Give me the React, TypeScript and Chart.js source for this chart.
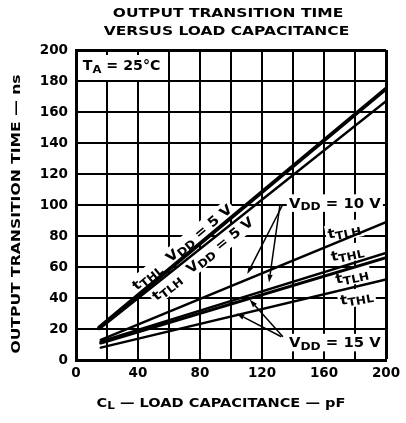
import React, { useEffect, useRef } from 'react';
import { Chart, registerables } from 'chart.js';

Chart.register(...registerables);

// ---- data ----
const X_MIN = 0;
const X_MAX = 200;
const X_STEP = 20;
const X_LABEL_STEP = 40;
const Y_MIN = 0;
const Y_MAX = 200;
const Y_STEP = 20;

const cl5V = [15, 200];
const tTHL_5V = [21, 175];
const tTLH_5V = [20, 167];

const cl10V = [16, 200];
const tTLH_10V = [13, 89];
const tTHL_10V = [12, 69];

const cl15V = [16, 200];
const tTLH_15V = [11, 66];
const tTHL_15V = [8, 52];

const TITLE = ['OUTPUT TRANSITION TIME', 'VERSUS LOAD CAPACITANCE'];
const Y_TITLE = 'OUTPUT TRANSITION TIME \u2014 ns';

const FONT = '"DejaVu Sans", "Liberation Sans", sans-serif';

type Part = { t: string; sub?: boolean };

const X_TITLE_PARTS: Part[] = [{ t: 'C' }, { t: 'L', sub: true }, { t: ' \u2014 LOAD CAPACITANCE \u2014 pF' }];

// right-side labels: [parts, x, y, rotationDeg]
const sideLabels: [Part[], number, number, number][] = [
  [[{ t: 'V' }, { t: 'DD', sub: true }, { t: ' = 10 V' }], 167, 101.5, 0],
  [[{ t: 't' }, { t: 'TLH', sub: true }], 173, 83.5, -12],
  [[{ t: 't' }, { t: 'THL', sub: true }], 175, 69, -12],
  [[{ t: 't' }, { t: 'TLH', sub: true }], 178, 54.5, -12],
  [[{ t: 't' }, { t: 'THL', sub: true }], 181, 40.5, -10],
  [[{ t: 'V' }, { t: 'DD', sub: true }, { t: ' = 15 V' }], 167, 11.5, 0],
];

// arrows: [fromX, fromY, toX, toY] in data units
const arrows: [number, number, number, number][] = [
  [133.5, 100.5, 110.5, 55.5],
  [131.5, 99.5, 124.5, 50],
  [133.5, 15, 112, 39],
  [132.5, 15, 103.5, 30],
];

function setFont(ctx: CanvasRenderingContext2D, size: number) {
  ctx.font = `bold ${size}px ${FONT}`;
}

function richWidth(ctx: CanvasRenderingContext2D, parts: Part[], size: number) {
  let w = 0;
  for (const p of parts) {
    setFont(ctx, p.sub ? size * 0.82 : size);
    w += ctx.measureText(p.t).width;
  }
  return w;
}

function drawRich(
  ctx: CanvasRenderingContext2D,
  parts: Part[],
  cx: number,
  cy: number,
  size: number,
  bg: boolean,
  sx = 1
) {
  ctx.save();
  ctx.translate(cx, cy);
  ctx.scale(sx, 1);
  const w = richWidth(ctx, parts, size);
  let x = -w / 2;
  if (bg) {
    ctx.fillStyle = '#fff';
    ctx.fillRect(x - 2, -size * 0.62, w + 4, size * 1.3);
  }
  ctx.fillStyle = '#000';
  ctx.textAlign = 'left';
  ctx.textBaseline = 'alphabetic';
  const base = size * 0.36;
  for (const p of parts) {
    const s = p.sub ? size * 0.82 : size;
    setFont(ctx, s);
    ctx.fillText(p.t, x, p.sub ? base + size * 0.2 : base);
    x += ctx.measureText(p.t).width;
  }
  ctx.restore();
}

function lineAt(xs: number[], ys: number[], x: number) {
  const t = (x - xs[0]) / (xs[1] - xs[0]);
  return ys[0] + t * (ys[1] - ys[0]);
}

const annotations = {
  id: 'annotations',
  beforeDatasetsDraw(chart: any) {
    const ctx: CanvasRenderingContext2D = chart.ctx;
    const xs = chart.scales.x;
    const ys = chart.scales.y;
    const area = chart.chartArea;
    const px = (v: number) => xs.getPixelForValue(v);
    const py = (v: number) => ys.getPixelForValue(v);
    ctx.save();

    // titles
    const tc = (area.left + area.right) / 2 - 3;
    drawRich(ctx, [{ t: TITLE[0] }], tc, 12, 13, false, 1.19);
    drawRich(ctx, [{ t: TITLE[1] }], tc - 1.5, 30.5, 13, false, 1.19);
    drawRich(ctx, X_TITLE_PARTS, tc - 7, 402, 13, false, 1.12);
    ctx.save();
    ctx.translate(15, 214);
    ctx.rotate(-Math.PI / 2);
    drawRich(ctx, [{ t: Y_TITLE }], 0, 0, 13, false, 1.2);
    ctx.restore();

    // TA box (covers grid in the top-left cell)
    const bx0 = px(0) + 2;
    const bx1 = px(60) - 1;
    const by0 = py(200) + 5;
    const by1 = py(180) - 1;
    ctx.fillStyle = '#fff';
    ctx.fillRect(bx0, by0, bx1 - bx0, by1 - by0);
    drawRich(ctx, [{ t: 'T' }, { t: 'A', sub: true }, { t: ' = 25\u00b0C' }], px(29.4), py(190.3), 13.5, false, 1.05);

    // side labels
    for (const [parts, x, y, rot] of sideLabels) {
      ctx.save();
      ctx.translate(px(x), py(y));
      ctx.rotate((rot * Math.PI) / 180);
      drawRich(ctx, parts, 0, 0, 13.5, true, 1.1);
      ctx.restore();
    }

    // 5 V labels along lines
    const along = (cx: number[], cy: number[], at: number, off: number, parts: Part[]) => {
      const x1 = px(cx[0]), y1 = py(cy[0]), x2 = px(cx[1]), y2 = py(cy[1]);
      const th = Math.atan2(y2 - y1, x2 - x1);
      const lx = px(at);
      const ly = py(lineAt(cx, cy, at));
      const nx = Math.sin(th), ny = -Math.cos(th);
      ctx.save();
      ctx.translate(lx + nx * off, ly + ny * off);
      ctx.rotate(th);
      drawRich(ctx, parts, 0, 0, 13.5, true, 1.1);
      ctx.restore();
    };
    along(cl5V, tTHL_5V, 72, 9, [
      { t: 't' }, { t: 'THL', sub: true }, { t: '  V' }, { t: 'DD', sub: true }, { t: ' = 5 V' },
    ]);
    along(cl5V, tTLH_5V, 78, -9, [
      { t: 't' }, { t: 'TLH', sub: true }, { t: '  V' }, { t: 'DD', sub: true }, { t: ' = 5 V' },
    ]);
    ctx.restore();
  },
  afterDatasetsDraw(chart: any) {
    const ctx: CanvasRenderingContext2D = chart.ctx;
    const xs = chart.scales.x;
    const ys = chart.scales.y;
    ctx.save();
    ctx.strokeStyle = '#000';
    ctx.fillStyle = '#000';
    ctx.lineWidth = 1.5;
    for (const [fx, fy, tx, ty] of arrows) {
      const x1 = xs.getPixelForValue(fx), y1 = ys.getPixelForValue(fy);
      const x2 = xs.getPixelForValue(tx), y2 = ys.getPixelForValue(ty);
      const th = Math.atan2(y2 - y1, x2 - x1);
      const hl = 8, hw = 2.6;
      const bx = x2 - Math.cos(th) * hl, by = y2 - Math.sin(th) * hl;
      ctx.beginPath();
      ctx.moveTo(x1, y1);
      ctx.lineTo(bx, by);
      ctx.stroke();
      ctx.beginPath();
      ctx.moveTo(x2, y2);
      ctx.lineTo(bx - Math.sin(th) * hw, by + Math.cos(th) * hw);
      ctx.lineTo(bx + Math.sin(th) * hw, by - Math.cos(th) * hw);
      ctx.closePath();
      ctx.fill();
    }
    ctx.restore();
  },
};

function toPoints(xs: number[], ys: number[]) {
  return xs.map((x, i) => ({ x, y: ys[i] }));
}

export default function App() {
  const ref = useRef<HTMLCanvasElement>(null);
  useEffect(() => {
    if (!ref.current) return;
    const mk = (label: string, xs: number[], ys: number[], w: number) => ({
      label,
      data: toPoints(xs, ys),
      borderColor: '#000',
      backgroundColor: '#000',
      borderWidth: w,
      pointRadius: 0,
      fill: false,
      tension: 0,
      borderCapStyle: 'round' as const,
    });
    const gridWidth = (c: any) => (c.tick && c.tick.value === 200 ? 3 : 2);
    const chart = new Chart(ref.current, {
      type: 'line',
      data: {
        datasets: [
          mk('tTHL VDD = 5 V', cl5V, tTHL_5V, 4),
          mk('tTLH VDD = 5 V', cl5V, tTLH_5V, 2.5),
          mk('tTLH VDD = 10 V', cl10V, tTLH_10V, 2.5),
          mk('tTHL VDD = 10 V', cl10V, tTHL_10V, 2.5),
          mk('tTLH VDD = 15 V', cl15V, tTLH_15V, 3.2),
          mk('tTHL VDD = 15 V', cl15V, tTHL_15V, 2.5),
        ],
      },
      options: {
        animation: false,
        responsive: false,
        devicePixelRatio: 1,
        layout: { padding: { top: 50, right: 20, bottom: 0, left: 0 } },
        plugins: {
          legend: { display: false },
          tooltip: { enabled: false },
          title: { display: false },
        },
        scales: {
          x: {
            type: 'linear',
            position: 'bottom',
            min: X_MIN,
            max: X_MAX,
            afterFit: (s: any) => { s.height = 63; },
            ticks: {
              stepSize: X_STEP,
              autoSkip: false,
              maxRotation: 0,
              color: '#000',
              padding: 5,
              font: { family: FONT, size: 13.5, weight: 'bold' },
              callback: (v: any) => (Number(v) % X_LABEL_STEP === 0 ? String(v) : ''),
            },
            grid: { color: '#000', lineWidth: gridWidth, drawTicks: false },
            border: { display: true, color: '#000', width: 3 },
          },
          y: {
            type: 'linear',
            min: Y_MIN,
            max: Y_MAX,
            afterFit: (s: any) => { s.width = 76; },
            ticks: {
              stepSize: Y_STEP,
              autoSkip: false,
              color: '#000',
              padding: 8,
              font: { family: FONT, size: 13.5, weight: 'bold' },
            },
            grid: { color: '#000', lineWidth: gridWidth, drawTicks: false },
            border: { display: true, color: '#000', width: 3 },
          },
        },
      },
      plugins: [annotations],
    });
    return () => chart.destroy();
  }, []);
  return (
    <div style={{ position: 'absolute', left: 0, top: 0, width: 406, height: 423, background: '#fff' }}>
      <canvas ref={ref} width={406} height={423} />
    </div>
  );
}
